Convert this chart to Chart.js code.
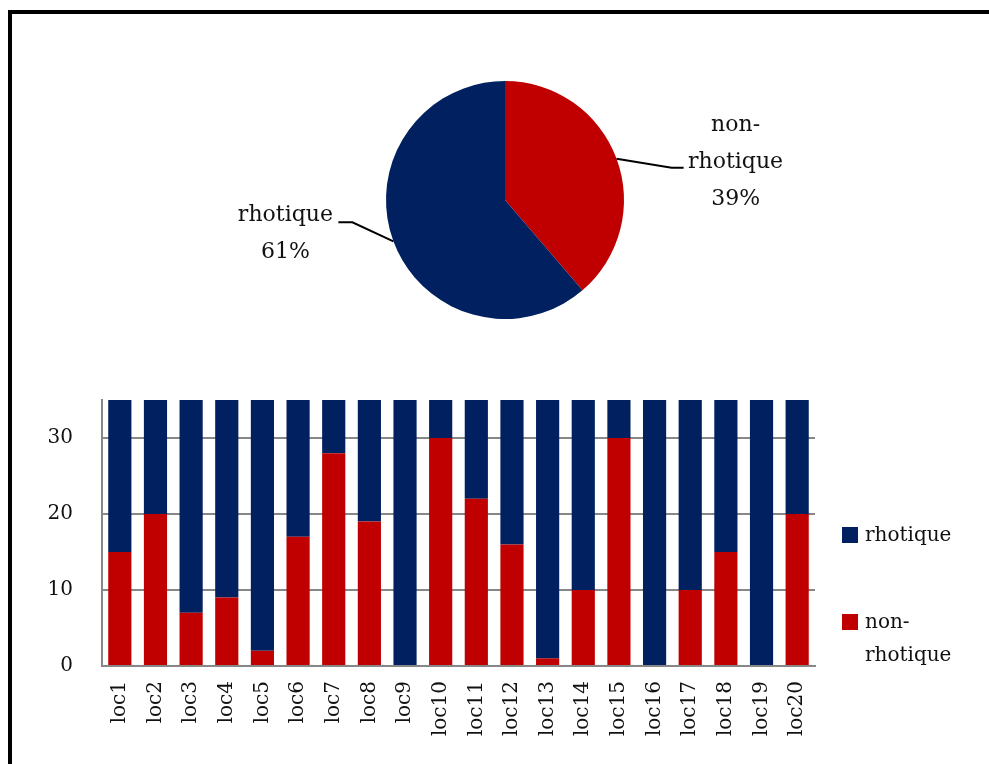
<!DOCTYPE html>
<html>
<head>
<meta charset="utf-8">
<script src="https://cdn.jsdelivr.net/npm/chart.js@4/dist/chart.umd.min.js"></script>
<style>
    body { margin: 0; background: #fff; width: 989px; height: 764px; overflow: hidden; position: relative; }
    #frame { position: absolute; left: 8px; top: 10px; width: 990px; height: 770px; border-top: 4px solid #000; border-left: 4px solid #000; }
    #pieChart { position: absolute; left: 0; top: 0; }
    #barChart { position: absolute; left: 0; top: 380px; }
    #legend { position: absolute; left: 842px; top: 518px; width: 130px; font-family: 'DejaVu Serif', serif; font-size: 20px; color: #111; }
    .item { position: relative; padding-left: 23px; line-height: 33px; }
    .item + .item { margin-top: 54px; }
    .box { position: absolute; left: 0; top: 9px; width: 16px; height: 16px; }
</style>
</head>
<body>
<div id="frame"></div>
<canvas id="pieChart" width="989" height="380"></canvas>
<canvas id="barChart" width="989" height="384"></canvas>
<div id="legend"></div>
<script>
// data
const locations = ["loc1", "loc2", "loc3", "loc4", "loc5", "loc6", "loc7", "loc8", "loc9", "loc10",
    "loc11", "loc12", "loc13", "loc14", "loc15", "loc16", "loc17", "loc18", "loc19", "loc20"];
const nonRhotique = [15, 20, 7, 9, 2, 17, 28, 19, 0, 30, 22, 16, 1, 10, 30, 0, 10, 15, 0, 20];
const rhotique = [20, 15, 28, 26, 33, 18, 7, 16, 35, 5, 13, 19, 34, 25, 5, 35, 25, 20, 35, 15];
const yTicks = [0, 10, 20, 30];
const yMax = 35;

const BLUE = "#002060";
const RED = "#C00000";
const GRID = "#878787";

Chart.defaults.font.family = "'DejaVu Serif', serif";
Chart.defaults.color = "#111";

const sum = arr => arr.reduce((a, b) => a + b, 0);
const splitName = name => name.includes("-") ? [name.slice(0, name.indexOf("-") + 1), name.slice(name.indexOf("-") + 1)] : [name];

// pie labels with leader lines
const pieLabels = {
    id: "pieLabels",
    afterDatasetsDraw(chart, args, opts) {
        const ctx = chart.ctx;
        const meta = chart.getDatasetMeta(0);
        const data = chart.data.datasets[0].data;
        const total = sum(data);
        meta.data.forEach((arc, i) => {
            const mid = (arc.startAngle + arc.endAngle) / 2;
            const ex = arc.x + Math.cos(mid) * arc.outerRadius;
            const ey = arc.y + Math.sin(mid) * arc.outerRadius;
            const o = opts.layout[i];
            const kx = ex + o.elbow[0], ky = ey + o.elbow[1];
            const endX = kx + o.tail;
            ctx.save();
            ctx.strokeStyle = "#000";
            ctx.lineWidth = 2;
            ctx.beginPath();
            ctx.moveTo(ex, ey);
            ctx.lineTo(kx, ky);
            ctx.lineTo(endX, ky);
            ctx.stroke();
            const lines = splitName(chart.data.labels[i]).concat([Math.round(data[i] / total * 100) + "%"]);
            ctx.font = "22px 'DejaVu Serif', serif";
            ctx.fillStyle = "#111";
            ctx.textAlign = "center";
            ctx.textBaseline = "middle";
            const cx = endX + o.textDx;
            const y0 = ky + o.textDy;
            lines.forEach((t, j) => ctx.fillText(t, cx, y0 + j * 37));
            ctx.restore();
        });
    }
};

new Chart(document.getElementById("pieChart").getContext("2d"), {
    type: "pie",
    data: {
        labels: ["non-rhotique", "rhotique"],
        datasets: [{
            data: [sum(nonRhotique), sum(rhotique)],
            backgroundColor: [RED, BLUE],
            borderWidth: 0,
            hoverOffset: 0
        }]
    },
    options: {
        responsive: false,
        animation: false,
        radius: 119,
        layout: { padding: { left: 386, right: 365, top: 81, bottom: 61 } },
        plugins: {
            legend: { display: false },
            tooltip: { enabled: false },
            pieLabels: {
                layout: [
                    { elbow: [55, 9], tail: 12, textDx: 52, textDy: -42 },
                    { elbow: [-41, -19], tail: -14, textDx: -53, textDy: -7 }
                ]
            }
        }
    },
    plugins: [pieLabels]
});

new Chart(document.getElementById("barChart").getContext("2d"), {
    type: "bar",
    data: {
        labels: locations,
        datasets: [
            { label: "non-rhotique", data: nonRhotique, backgroundColor: RED, borderWidth: 0 },
            { label: "rhotique", data: rhotique, backgroundColor: BLUE, borderWidth: 0 }
        ]
    },
    options: {
        responsive: false,
        animation: false,
        layout: { padding: { top: 0, right: 174, left: 0, bottom: 0 } },
        datasets: { bar: { categoryPercentage: 1, barPercentage: 0.65 } },
        scales: {
            x: {
                stacked: true,
                grid: { display: false, drawTicks: false },
                border: { display: true, color: GRID, width: 2 },
                ticks: { minRotation: 90, maxRotation: 90, padding: 15, autoSkip: false, font: { size: 20 } },
                afterFit: s => { s.height = 98; }
            },
            y: {
                stacked: true,
                min: 0,
                max: yMax,
                grid: { color: GRID, lineWidth: 2, drawTicks: false },
                border: { display: true, color: GRID, width: 2 },
                ticks: { padding: 29, font: { size: 20 } },
                afterBuildTicks: s => { s.ticks = yTicks.map(v => ({ value: v })); },
                afterFit: s => { s.width = 102; s.paddingTop = 20; }
            }
        },
        plugins: { legend: { display: false }, tooltip: { enabled: false } }
    }
});

// legend on the right, blue first
const legend = document.getElementById("legend");
[["rhotique", BLUE], ["non-rhotique", RED]].forEach(([name, color]) => {
    const item = document.createElement("div");
    item.className = "item";
    item.innerHTML = '<span class="box" style="background:' + color + '"></span>' + splitName(name).join("<br>");
    legend.appendChild(item);
});
</script>
</body>
</html>
